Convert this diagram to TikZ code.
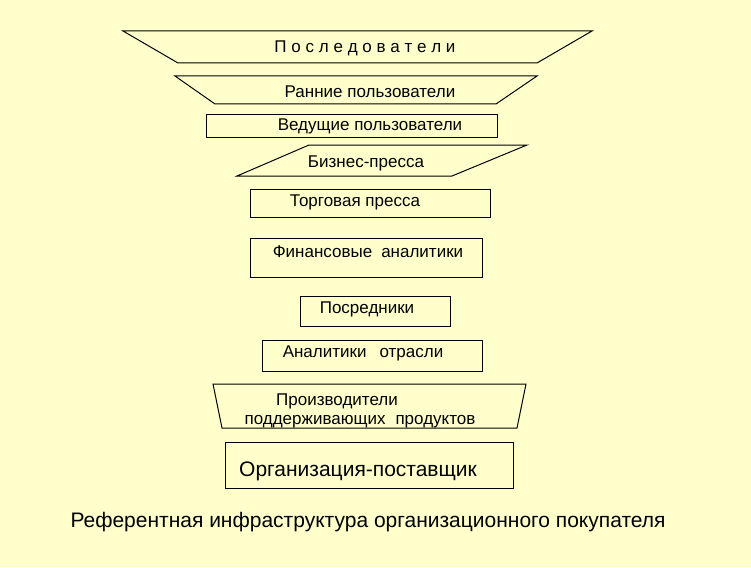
\documentclass[tikz,border=0pt]{standalone}
\usepackage{fontspec}
\setmainfont{Liberation Sans}
\definecolor{bgyellow}{HTML}{FFFFCC}
\tikzset{
  shapeline/.style={draw=black, line width=1pt, line join=miter},
  lbl/.style={inner sep=0pt, font=\fontsize{17}{19}\selectfont, text=black},
  biglbl/.style={inner sep=0pt, font=\fontsize{21}{23}\selectfont, text=black}
}
\begin{document}
\begin{tikzpicture}[x=1pt,y=-1pt]
\fill[bgyellow] (0,0) rectangle (751,567);
\useasboundingbox (0,0) rectangle (751,567);
% shapes
\draw[shapeline] (123,31) -- (592,31) -- (537,63) -- (178,63) -- cycle;
\draw[shapeline] (175,76) -- (537,76) -- (496,104) -- (215,104) -- cycle;
\draw[shapeline] (206,114) rectangle (497,137);
\draw[shapeline] (309,145) -- (527,145) -- (452,176) -- (237,176) -- cycle;
\draw[shapeline] (250,189) rectangle (490,217);
\draw[shapeline] (250,238) rectangle (482,277);
\draw[shapeline] (300,296) rectangle (450,326);
\draw[shapeline] (262,340) rectangle (482,371);
\draw[shapeline] (213,384) -- (526,384) -- (517,428) -- (222,428) -- cycle;
\draw[shapeline] (225,442) rectangle (513,488);
% labels
\def\g{\hspace{4.75pt}}
\node[lbl] (posl) at (365,48) {П\g о\g с\g л\g е\g д\g о\g в\g а\g т\g е\g л\g и};
\node[lbl] (rann) at (370,92) {Ранние пользователи};
\node[lbl] (ved) at (370,126) {Ведущие пользователи};
\node[lbl] (biz) at (366,163) {Бизнес-пресса};
\node[lbl] (torg) at (355,202) {Торговая пресса};
\node[lbl] (fin) at (368,252) {Финансовые\hspace{9pt}аналитики};
\node[lbl] (posr) at (367,309) {Посредники};
\node[lbl] (anal) at (363,353) {Аналитики\hspace{13pt}отрасли};
\node[lbl] (proiz1) at (337,401) {Производители};
\node[lbl] (proiz2) at (360,422) {поддерживающих\hspace{10pt}продуктов};
\node[biglbl] (org) at (358,471) {Организация-поставщик};
\node[biglbl] (cap) at (368,522) {Референтная инфраструктура организационного покупателя};
\end{tikzpicture}
\end{document}
